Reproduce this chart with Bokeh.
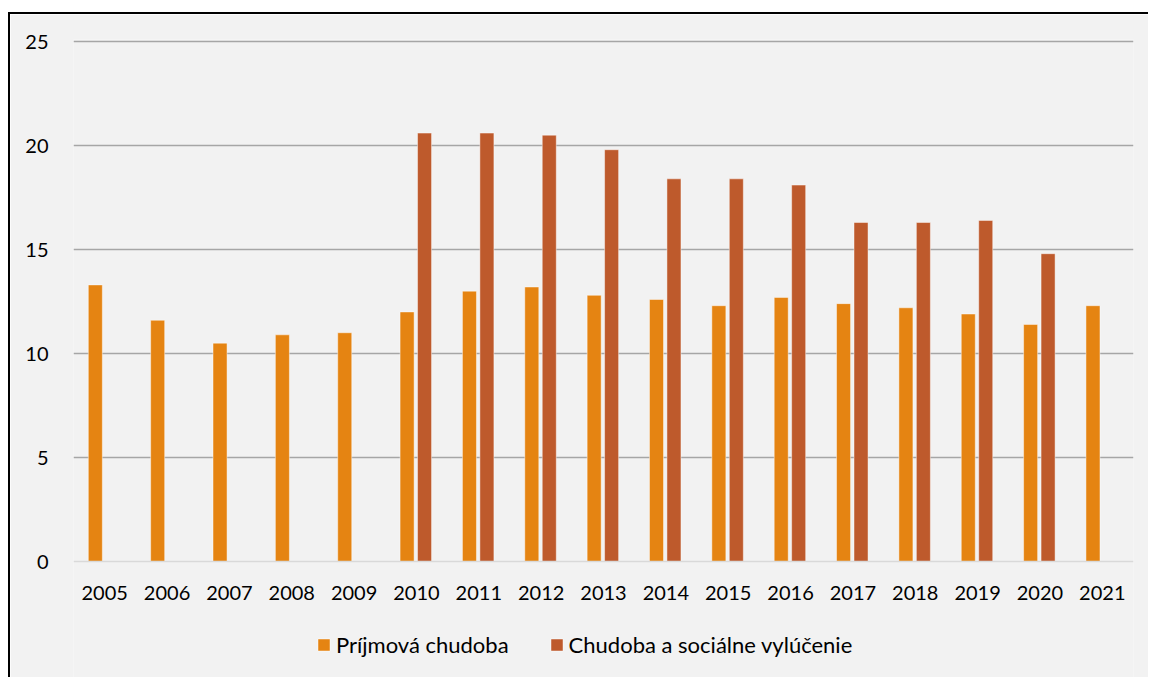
from bokeh.plotting import figure
from bokeh.models import ColumnDataSource, FactorRange, Range1d, FixedTicker, Legend, LegendItem, Span
from bokeh.transform import dodge
from bokeh.core.properties import value
from bokeh.embed import file_html
from bokeh.resources import INLINE

years = [str(y) for y in range(2005, 2022)]
prijmova = [13.3, 11.6, 10.5, 10.9, 11.0, 12.0, 13.0, 13.2, 12.8, 12.6, 12.3, 12.7, 12.4, 12.2, 11.9, 11.4, 12.3]
chudoba_vyl = [None, None, None, None, None, 20.6, 20.6, 20.5, 19.8, 18.4, 18.4, 18.1, 16.3, 16.3, 16.4, 14.8, None]
y_ticks = [0, 5, 10, 15, 20, 25]
series_names = ["Príjmová chudoba", "Chudoba a sociálne vylúčenie"]

FONT = "Lato"
BG = "#F2F2F2"
C1 = "#E58412"
C2 = "#BE5A2C"

src1 = ColumnDataSource(dict(year=years, val=prijmova))
ry = [y for y, v in zip(years, chudoba_vyl) if v is not None]
rv = [v for v in chudoba_vyl if v is not None]
src2 = ColumnDataSource(dict(year=ry, val=rv))

# frame reaches down to the bottom of the chart box; the category labels and
# legend live in the area below zero
p = figure(x_range=FactorRange(*years, range_padding=0), y_range=Range1d(-5.577, 25.1),
           frame_width=1060, frame_height=638, output_backend="svg", toolbar_location=None,
           x_axis_location=None,
           min_border_left=63, min_border_right=15, min_border_top=25, min_border_bottom=0,
           background_fill_color=BG, border_fill_color=BG, outline_line_color=None,
           margin=(12, 0, 0, 8),
           styles={"border-left": "2px solid black", "border-top": "2px solid black"})

r1 = p.vbar(x=dodge("year", -0.15, range=p.x_range), top="val", width=0.225, source=src1,
            fill_color=C1, line_color="white", line_alpha=0.45, line_width=1)
r2 = p.vbar(x=dodge("year", 0.13, range=p.x_range), top="val", width=0.225, source=src2,
            fill_color=C2, line_color="white", line_alpha=0.45, line_width=1)

# zero baseline
p.add_layout(Span(location=0, dimension="width", line_color="#D9D9D9", line_width=1.5))

# category labels
p.text(x="year", y=-1.49, text="year", source=src1, text_align="center", text_baseline="middle",
       text_font=value(FONT), text_font_size="20px", text_color="black")

p.xgrid.grid_line_color = None
p.ygrid.ticker = FixedTicker(ticks=[t for t in y_ticks if t > 0])
p.ygrid.grid_line_color = "#A6A6A6"
p.ygrid.grid_line_width = 1.5

p.yaxis.ticker = FixedTicker(ticks=y_ticks)
p.yaxis.axis_line_color = None
p.yaxis.major_tick_line_color = None
p.yaxis.minor_tick_line_color = None
p.yaxis.major_label_standoff = 19
p.yaxis.major_label_text_font = FONT
p.yaxis.major_label_text_font_size = "20px"
p.yaxis.major_label_text_color = "black"

legend = Legend(items=[LegendItem(label=series_names[0], renderers=[r1]),
                       LegendItem(label=series_names[1], renderers=[r2])],
                orientation="horizontal", location=(243, 19),
                background_fill_alpha=0, border_line_color=None,
                label_text_font=FONT, label_text_font_size="22px", label_text_color="black",
                glyph_width=15, glyph_height=15, label_standoff=5, spacing=40,
                padding=0, margin=0, label_height=24)
p.add_layout(legend)

open("out.html", "w").write(file_html(p, INLINE))
